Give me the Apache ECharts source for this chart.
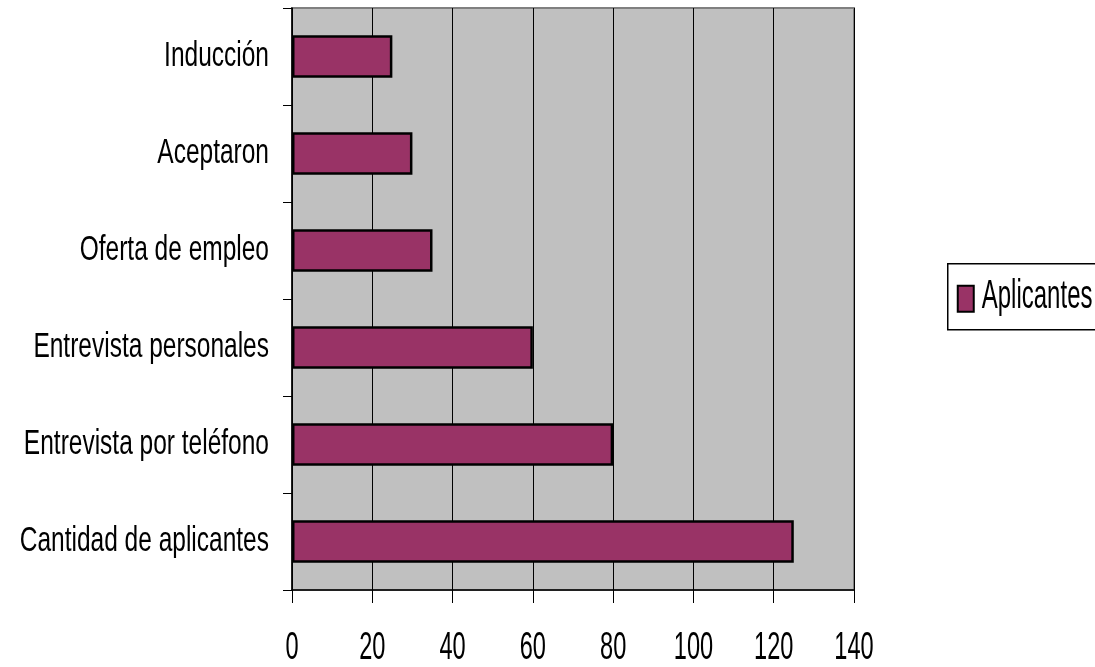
<!DOCTYPE html>
<html>
<head>
<meta charset="utf-8">
<script src="https://cdn.jsdelivr.net/npm/echarts@6/dist/echarts.min.js"></script>
<style>
html,body{margin:0;padding:0;background:#fff;}
#chart{width:1095px;height:667px;}
</style>
</head>
<body>
<div id="chart"></div>
<script>
var categories = ["Cantidad de aplicantes", "Entrevista por teléfono", "Entrevista personales", "Oferta de empleo", "Aceptaron", "Inducción"];
var aplicantes = [125, 80, 60, 35, 30, 25];
var seriesName = "Aplicantes";
var xTicks = [0, 20, 40, 60, 80, 100, 120, 140];

var FONT = "'Liberation Sans', Arial, sans-serif";
var BAR_COLOR = '#993366';
var chart = echarts.init(document.getElementById('chart'), null, {renderer: 'canvas'});
chart.setOption({
  animation: false,
  backgroundColor: '#ffffff',
  grid: {
    left: 292, right: 241, top: 8, bottom: 77,
    show: true, backgroundColor: '#C0C0C0', borderColor: '#808080', borderWidth: 2,
    containLabel: false, outerBoundsMode: 'none'
  },
  xAxis: {
    type: 'value', min: xTicks[0], max: xTicks[xTicks.length - 1], interval: xTicks[1] - xTicks[0],
    axisLine: {show: true, lineStyle: {color: '#000', width: 1.5}},
    axisTick: {show: true, inside: false, length: 13, lineStyle: {color: '#000', width: 1}},
    splitLine: {show: true, lineStyle: {color: '#000', width: 1}},
    axisLabel: {show: false}
  },
  yAxis: {
    type: 'category', data: categories,
    axisLine: {show: true, lineStyle: {color: '#000', width: 1.5}},
    axisTick: {show: true, inside: false, length: 9, alignWithLabel: false, lineStyle: {color: '#000', width: 1}},
    splitLine: {show: false},
    axisLabel: {show: false}
  },
  series: [{
    name: seriesName, type: 'bar', data: aplicantes,
    barWidth: '44%',
    itemStyle: {color: BAR_COLOR, borderColor: '#000', borderWidth: 2.5}
  }]
});

// Narrow (condensed) tick labels, placed through the axes' own scales
var gridRect = chart.getModel().getComponent('grid', 0).coordinateSystem.getRect();
var graphics = [];
categories.forEach(function (c) {
  var y = chart.convertToPixel({yAxisIndex: 0}, c);
  graphics.push({
    type: 'text', x: gridRect.x - 23, y: y, scaleX: 0.70, silent: true,
    style: {text: c, font: '35px ' + FONT, fill: '#000', align: 'right', verticalAlign: 'middle'}
  });
});
xTicks.forEach(function (t) {
  var x = chart.convertToPixel({xAxisIndex: 0}, t);
  graphics.push({
    type: 'text', x: x, y: gridRect.y + gridRect.height + 59, scaleX: 0.62, silent: true,
    style: {text: String(t), font: '38px ' + FONT, fill: '#000', align: 'center', verticalAlign: 'middle'}
  });
});
// Legend box
graphics.push({
  type: 'group', left: 947, top: 263, silent: true,
  children: [
    {type: 'rect', shape: {x: 0, y: 0, width: 170, height: 66}, style: {fill: '#fff', stroke: '#000', lineWidth: 1.5}},
    {type: 'rect', shape: {x: 10, y: 22, width: 16, height: 26}, style: {fill: BAR_COLOR, stroke: '#000', lineWidth: 2}},
    {type: 'text', x: 34, y: 33, scaleX: 0.60, style: {text: seriesName, font: '40px ' + FONT, fill: '#000', align: 'left', verticalAlign: 'middle'}}
  ]
});
chart.setOption({graphic: graphics});
</script>
</body>
</html>
